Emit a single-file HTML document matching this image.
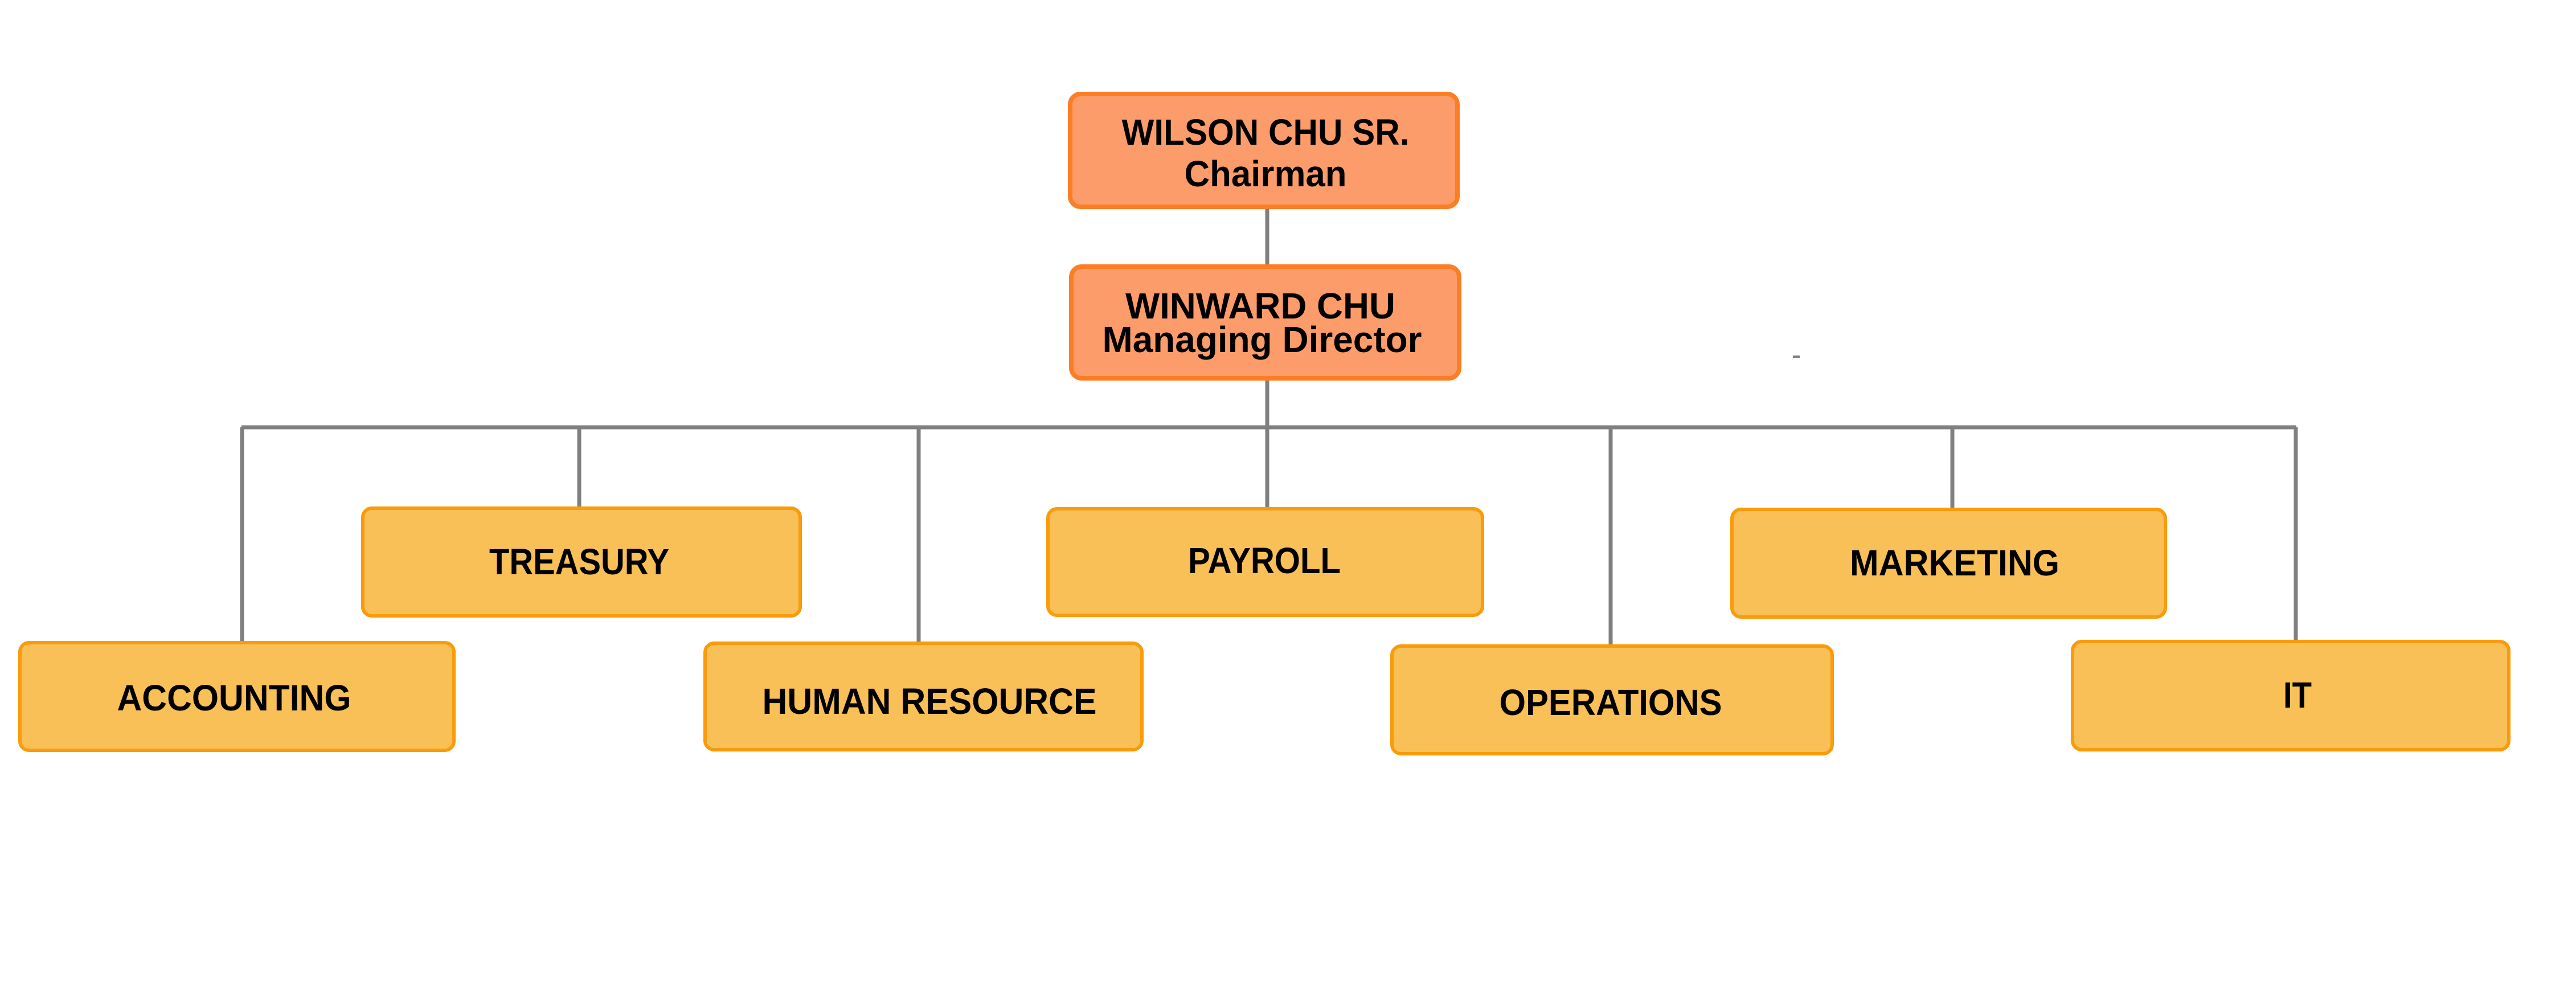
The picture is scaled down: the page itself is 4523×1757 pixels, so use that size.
<!DOCTYPE html>
<html><head><meta charset="utf-8"><style>
html,body{margin:0;padding:0;background:#fff;}
svg{display:block;}
text{font-family:"Liberation Sans",sans-serif;font-weight:bold;fill:#000;}
</style></head><body>
<svg width="4523" height="1757" viewBox="0 0 4523 1757" xmlns="http://www.w3.org/2000/svg">
<g stroke="#808080" stroke-width="7" fill="none">
<line x1="2225" y1="363" x2="2225" y2="467"/>
<line x1="2225" y1="664" x2="2225" y2="894"/>
<line x1="424" y1="750" x2="4032" y2="750"/>
<line x1="425" y1="750" x2="425" y2="1127"/>
<line x1="1017" y1="750" x2="1017" y2="891"/>
<line x1="1613" y1="750" x2="1613" y2="1129"/>
<line x1="2828" y1="750" x2="2828" y2="1133"/>
<line x1="3428" y1="750" x2="3428" y2="893"/>
<line x1="4031" y1="750" x2="4031" y2="1125"/>
</g>
<line x1="3148" y1="626" x2="3160" y2="626" stroke="#808080" stroke-width="4"/>
<g fill="#FD9C6B" stroke="#FC7E24" stroke-width="8">
<rect x="1879" y="165" width="680" height="198" rx="18"/>
<rect x="1881" y="468" width="681" height="196" rx="18"/>
</g>
<g fill="#F9C058" stroke="#F99B0A" stroke-width="6">
<rect x="35" y="1128" width="762" height="189" rx="16"/>
<rect x="637" y="892" width="768" height="189" rx="16"/>
<rect x="1238" y="1129" width="767" height="187" rx="16"/>
<rect x="1840" y="893" width="763" height="187" rx="16"/>
<rect x="2444" y="1134" width="773" height="189" rx="16"/>
<rect x="3041" y="894" width="761" height="189" rx="16"/>
<rect x="3639" y="1126" width="766" height="190" rx="16"/>
</g>
<g font-size="64" text-anchor="middle">
<text x="2222" y="254" textLength="505" lengthAdjust="spacingAndGlyphs">WILSON CHU SR.</text>
<text x="2222" y="327" textLength="285" lengthAdjust="spacingAndGlyphs">Chairman</text>
<text x="2213" y="559" textLength="474" lengthAdjust="spacingAndGlyphs">WINWARD CHU</text>
<text x="2216" y="618" textLength="561" lengthAdjust="spacingAndGlyphs">Managing Director</text>
</g>
<g font-size="64" text-anchor="middle">
<text x="411" y="1247" textLength="411" lengthAdjust="spacingAndGlyphs">ACCOUNTING</text>
<text x="1017" y="1008" textLength="316" lengthAdjust="spacingAndGlyphs">TREASURY</text>
<text x="1632" y="1253" textLength="587" lengthAdjust="spacingAndGlyphs">HUMAN RESOURCE</text>
<text x="2220" y="1006" textLength="268" lengthAdjust="spacingAndGlyphs">PAYROLL</text>
<text x="2828" y="1255" textLength="391" lengthAdjust="spacingAndGlyphs">OPERATIONS</text>
<text x="3432" y="1010" textLength="368" lengthAdjust="spacingAndGlyphs">MARKETING</text>
<text x="4034" y="1242" textLength="50" lengthAdjust="spacingAndGlyphs">IT</text>
</g>
</svg>
</body></html>
